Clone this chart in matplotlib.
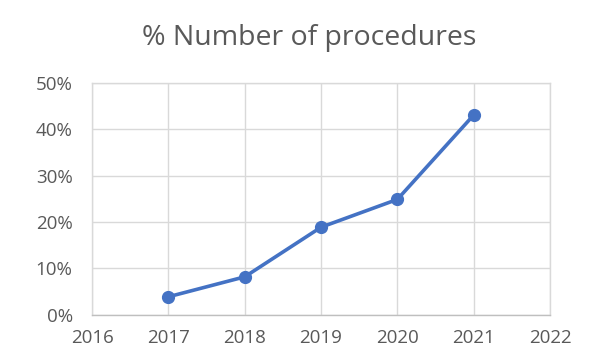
import matplotlib
matplotlib.use("Agg")
import matplotlib.pyplot as plt
from matplotlib.ticker import FuncFormatter, MultipleLocator

years = [2017, 2018, 2019, 2020, 2021]
share = [0.039, 0.082, 0.189, 0.249, 0.431]
x_ticks = [2016, 2017, 2018, 2019, 2020, 2021, 2022]

text_color = "#595959"
grid_color = "#d9d9d9"
line_color = "#4472C4"

plt.rcParams["font.family"] = ["Open Sans", "DejaVu Sans"]

fig = plt.figure(figsize=(5.94, 3.64), dpi=100)
ax = fig.add_axes([0.155, 0.135, 0.771, 0.637])

ax.plot(years, share, color=line_color, linewidth=2.6, marker="o",
        markersize=8.5, zorder=3)

ax.set_xlim(2016, 2022)
ax.set_ylim(0, 0.5)
ax.set_xticks(x_ticks)
ax.yaxis.set_major_locator(MultipleLocator(0.1))
ax.yaxis.set_major_formatter(FuncFormatter(lambda v, _: f"{v * 100:.0f}%"))

ax.grid(True, color=grid_color, linewidth=1)
ax.set_axisbelow(True)
for side in ax.spines.values():
    side.set_color(grid_color)
    side.set_linewidth(1)
ax.spines["bottom"].set_color("#bfbfbf")

ax.tick_params(length=0, colors=text_color, labelsize=13.5)
ax.tick_params(axis="x", pad=10)
ax.tick_params(axis="y", pad=14)

fig.text(0.52, 0.895, "% Number of procedures", ha="center", va="center",
         fontsize=20.5, color=text_color)

fig.savefig("out.png", dpi=100)
